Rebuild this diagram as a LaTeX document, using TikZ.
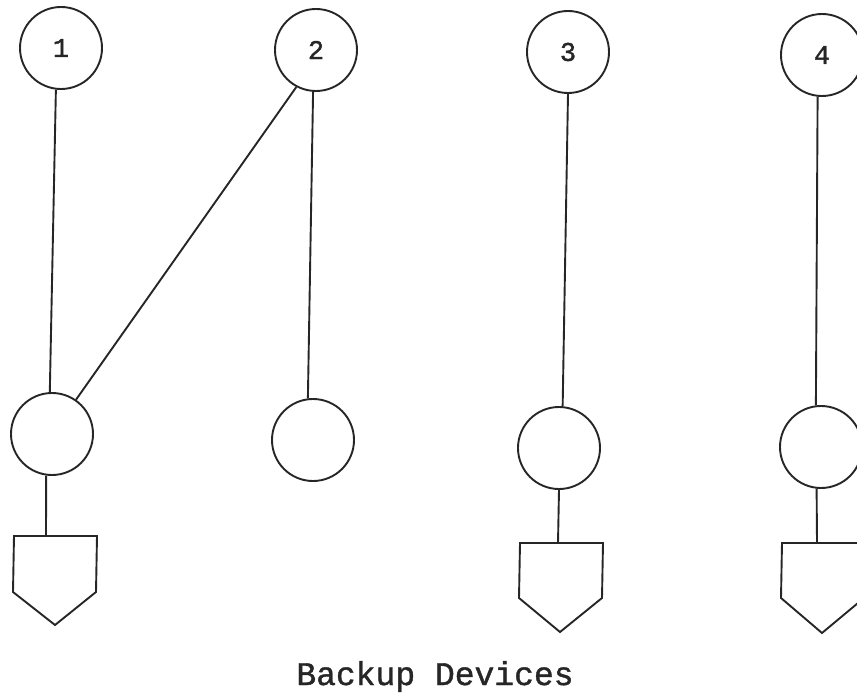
\documentclass[tikz,border=0pt]{standalone}
\usepackage{fontspec}
\newfontfamily\typewriter[FakeBold=1.2]{Liberation Mono}
\newfontfamily\digitfont[FakeBold=1.5]{Liberation Mono}
\definecolor{ink}{gray}{0.15}
\tikzset{
  unit/.style={circle, draw=ink, line width=1.9pt, minimum size=82pt, inner sep=0pt,
    font=\digitfont\fontsize{27}{27}\selectfont, text=ink},
  link/.style={draw=ink, line width=1.9pt},
  device/.style={draw=ink, line width=1.9pt, line join=miter}
}
\begin{document}
\begin{tikzpicture}[x=1pt, y=-1pt]
  \useasboundingbox (0,0) rectangle (857,693);

  % processors
  \node[unit] (c1) at (61,48) {1};
  \node[unit] (c2) at (316,50) {2};
  \node[unit] (c3) at (568,52) {3};
  \node[unit] (c4) at (822,55) {4};

  % controllers
  \node[unit] (ca) at (52,434) {};
  \node[unit] (cb) at (313,440) {};
  \node[unit] (cc) at (559,448) {};
  \node[unit] (cd) at (821,447) {};

  % backup devices
  \draw[device] (14,536) -- (97,536) -- (96,592) -- (55,625) -- (13,592) -- cycle;
  \coordinate (da) at (46,536);
  \draw[device] (520,543) -- (603,543) -- (602,598) -- (560,632) -- (519,598) -- cycle;
  \coordinate (dc) at (558,543);
  \draw[device] (782,543) -- (865,543) -- (864,598) -- (822,633) -- (781,598) -- cycle;
  \coordinate (dd) at (817,543);

  % connections
  \draw[link] (c1.263) -- (ca.93);
  \draw[link] (c2.242) -- (ca.55);
  \draw[link] (c2.266) -- (cb.97);
  \draw[link] (c3.270) -- (cc.85);
  \draw[link] (c4.264) -- (cd.97);
  \draw[link] (ca.262) -- (da);
  \draw[link] (cc.270) -- (dc);
  \draw[link] (cd.264) -- (dd);

  \node[anchor=base, font=\typewriter\fontsize{33}{33}\selectfont, text=ink] (cap) at (435,685) {Backup Devices};
\end{tikzpicture}
\end{document}
